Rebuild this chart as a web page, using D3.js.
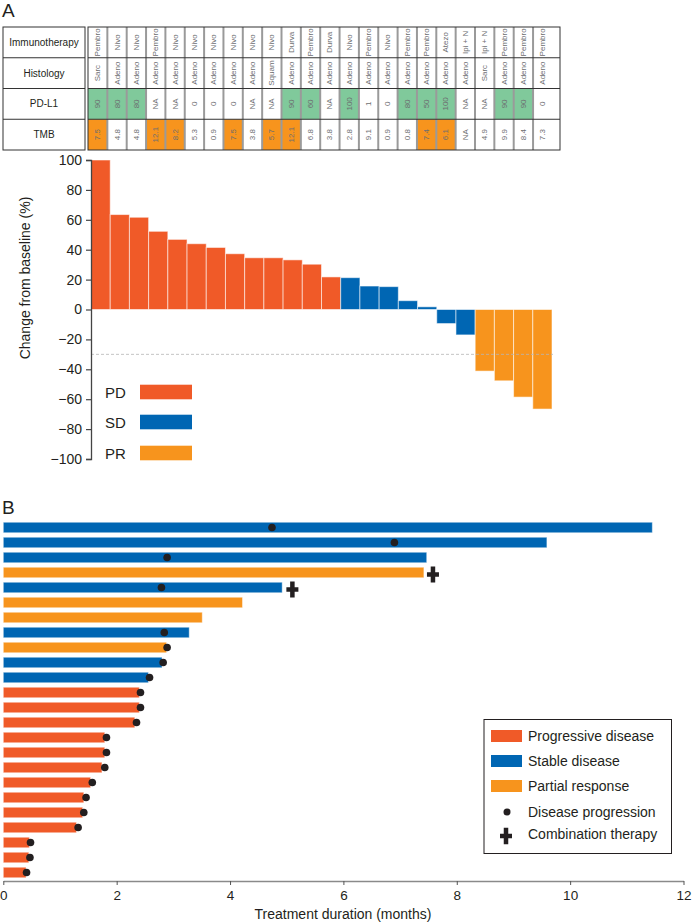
<!DOCTYPE html>
<html>
<head>
<meta charset="utf-8">
<script src="https://cdn.jsdelivr.net/npm/d3@7/dist/d3.min.js"></script>
<style>
  html, body { margin: 0; padding: 0; background: #fff; }
  svg { display: block; font-family: "Liberation Sans", Arial, Helvetica, sans-serif; }
</style>
</head>
<body>
<svg id="chart" width="694" height="924"></svg>
<script>
// ---------- DATA ----------
const rowLabels = ["Immunotherapy", "Histology", "PD-L1", "TMB"];
const immunotherapy = ["Pembro","Nivo","Nivo","Pembro","Nivo","Nivo","Nivo","Nivo","Nivo","Nivo","Durva","Pembro","Durva","Nivo","Pembro","Nivo","Pembro","Pembro","Atezo","Ipi + N","Ipi + N","Pembro","Pembro","Pembro"];
const histology = ["Sarc","Adeno","Adeno","Adeno","Adeno","Adeno","Adeno","Adeno","Adeno","Squam","Adeno","Adeno","Adeno","Adeno","Adeno","Adeno","Adeno","Adeno","Adeno","Adeno","Sarc","Adeno","Adeno","Adeno"];
const pdl1 = ["90","80","80","NA","NA","0","0","0","NA","NA","90","60","NA","100","1","0","80","50","100","NA","NA","90","90","0"];
const tmb = ["7.5","4.8","4.8","12.1","8.2","5.3","0.9","7.5","3.8","5.7","12.1","6.8","3.8","2.8","9.1","0.9","0.8","7.4","6.1","NA","4.9","9.9","8.4","7.3"];
const tmbHighlighted = [1,0,0,1,1,0,0,1,0,1,1,0,0,0,0,0,0,1,1,0,0,0,0,0];

const changeFromBaseline = [100,63.5,61.7,52.3,46.9,44,41.5,37.3,34.6,34.6,33.2,30.3,21.8,21.3,15.7,15.3,5.9,1.8,-9.4,-17,-41.2,-47.7,-58.6,-66.6];
const bestResponse = ["PD","PD","PD","PD","PD","PD","PD","PD","PD","PD","PD","PD","PD","SD","SD","SD","SD","SD","SD","SD","PR","PR","PR","PR"];
const yTicksA = [100,80,60,40,20,0,-20,-40,-60,-80,-100];

const treatmentDuration = [11.45,9.59,7.47,7.42,4.92,4.22,3.51,3.28,2.88,2.80,2.56,2.40,2.40,2.32,1.79,1.79,1.74,1.54,1.42,1.40,1.29,0.46,0.45,0.40];
const swimResponse = ["SD","SD","SD","PR","SD","PR","PR","SD","PR","SD","SD","PD","PD","PD","PD","PD","PD","PD","PD","PD","PD","PD","PD","PD"];
const progressionTime = [4.74,6.90,2.89,null,2.79,null,null,2.84,2.89,2.82,2.58,2.42,2.42,2.35,1.82,1.82,1.79,1.57,1.46,1.42,1.32,0.48,0.47,0.41];
const combinationTime = [null,null,null,7.58,5.10,null,null,null,null,null,null,null,null,null,null,null,null,null,null,null,null,null,null,null];
const xTicksB = [0,2,4,6,8,10,12];

const colors = { PD: "#f05a28", SD: "#0066b3", PR: "#f7941d" };
const legendA = [["PD","PD"],["SD","SD"],["PR","PR"]];
const legendB = [["Progressive disease","PD"],["Stable disease","SD"],["Partial response","PR"]];

// ---------- SETUP ----------
const svg = d3.select("#chart");
const idx = d3.range(changeFromBaseline.length);
const textColor = "#231f20";

// Panel labels
svg.append("text").attr("x", 2).attr("y", 17).attr("font-size", 19).attr("fill", textColor).text("A");
svg.append("text").attr("x", 2).attr("y", 514).attr("font-size", 19).attr("fill", textColor).text("B");

// ---------- TABLE ----------
const rowY = d3.scaleBand().domain(rowLabels).range([27, 150]);
const colX = d3.scaleBand().domain(idx).range([88, 88 + 19.35 * 24]);
const tableRight = 560;
const tbl = svg.append("g");

rowLabels.forEach(r => {
  tbl.append("text")
    .attr("x", 44).attr("y", rowY(r) + rowY.bandwidth() / 2)
    .attr("text-anchor", "middle").attr("dominant-baseline", "central")
    .attr("font-size", 10).attr("fill", textColor).text(r);
});

const rowsData = [
  { key: "Immunotherapy", vals: immunotherapy, fill: () => null },
  { key: "Histology", vals: histology, fill: () => null },
  { key: "PD-L1", vals: pdl1, fill: v => (v !== "NA" && +v >= 50) ? "#80c99b" : null },
  { key: "TMB", vals: tmb, fill: (v, i) => tmbHighlighted[i] ? "#f7941d" : null }
];
const colW = i => (i === 23 ? tableRight - colX(i) : colX.bandwidth());

rowsData.forEach(row => {
  row.vals.forEach((v, i) => {
    const f = row.fill(v, i);
    if (f) {
      tbl.append("rect").attr("x", colX(i)).attr("y", rowY(row.key))
        .attr("width", colW(i)).attr("height", rowY.bandwidth()).attr("fill", f);
    }
    const cx = colX(i) + colW(i) / 2 - (i === 23 ? 4 : 0);
    const cy = rowY(row.key) + rowY.bandwidth() / 2;
    tbl.append("text")
      .attr("transform", `translate(${cx},${cy}) rotate(-90)`)
      .attr("text-anchor", "middle").attr("dominant-baseline", "central")
      .attr("font-size", 8).attr("fill", "#6d6e71").text(v);
  });
});

d3.range(1, 24).forEach(i => {
  tbl.append("line").attr("x1", colX(i)).attr("x2", colX(i))
    .attr("y1", 27).attr("y2", 150).attr("stroke", "#9a9a9a").attr("stroke-width", 2);
});
rowLabels.slice(1).forEach(r => {
  const yy = rowY(r);
  tbl.append("line").attr("x1", 3).attr("x2", 85).attr("y1", yy).attr("y2", yy).attr("stroke", "#333").attr("stroke-width", 1);
  tbl.append("line").attr("x1", 88).attr("x2", tableRight).attr("y1", yy).attr("y2", yy).attr("stroke", "#333").attr("stroke-width", 1);
});
tbl.append("rect").attr("x", 3).attr("y", 27).attr("width", 82).attr("height", 123)
  .attr("fill", "none").attr("stroke", "#333").attr("stroke-width", 1);
tbl.append("rect").attr("x", 88).attr("y", 27).attr("width", tableRight - 88).attr("height", 123)
  .attr("fill", "none").attr("stroke", "#333").attr("stroke-width", 1);

// ---------- WATERFALL ----------
const xA = d3.scaleBand().domain(idx).range([91, 552]).padding(0);
const yA = d3.scaleLinear().domain([-100, 100]).range([459, 160]);

svg.append("g").selectAll("rect").data(idx).join("rect")
  .attr("x", i => xA(i))
  .attr("y", i => yA(Math.max(0, changeFromBaseline[i])))
  .attr("width", xA.bandwidth())
  .attr("height", i => Math.abs(yA(changeFromBaseline[i]) - yA(0)))
  .attr("fill", i => colors[bestResponse[i]])
  .attr("stroke", "#fff").attr("stroke-opacity", 0.55).attr("stroke-width", 1);

svg.append("line").attr("x1", 91).attr("x2", 553).attr("y1", yA(-30)).attr("y2", yA(-30))
  .attr("stroke", "#b5b5b5").attr("stroke-width", 0.8).attr("stroke-dasharray", "3,2");

const axA = svg.append("g").attr("transform", "translate(91,0)")
  .call(d3.axisLeft(yA).tickValues(yTicksA).tickSize(5).tickPadding(4)
    .tickFormat(d => d < 0 ? "\u2212" + Math.abs(d) : d));
axA.select(".domain").attr("stroke", "#444").attr("stroke-width", 1.3);
axA.selectAll(".tick line").attr("stroke", "#444").attr("stroke-width", 1.2);
axA.selectAll(".tick text").attr("font-size", 14).attr("fill", textColor)
  .attr("font-family", "'Liberation Sans', Arial, sans-serif");

svg.append("text")
  .attr("transform", `translate(30,278) rotate(-90)`)
  .attr("text-anchor", "middle").attr("font-size", 14).attr("fill", textColor)
  .text("Change from baseline (%)");

legendA.forEach((d, k) => {
  const cy = [392, 422, 453][k];
  svg.append("text").attr("x", 105).attr("y", cy).attr("dominant-baseline", "central")
    .attr("font-size", 15).attr("fill", textColor).text(d[0]);
  svg.append("rect").attr("x", 140).attr("y", cy - 7.3).attr("width", 52).attr("height", 14.6)
    .attr("fill", colors[d[1]]);
});

// ---------- SWIMMER ----------
const xB = d3.scaleLinear().domain([0, 12]).range([3.3, 683.5]);
const yB = d3.scaleBand().domain(idx).range([520, 880]).paddingInner(0.3).paddingOuter(0.15);

svg.append("g").selectAll("rect").data(idx).join("rect")
  .attr("x", xB(0))
  .attr("y", i => yB(i))
  .attr("width", i => xB(treatmentDuration[i]) - xB(0))
  .attr("height", yB.bandwidth())
  .attr("fill", i => colors[swimResponse[i]])
  .attr("stroke", "#fff").attr("stroke-opacity", 0.45).attr("stroke-width", 1);

const crossPath = (cx, cy, w, h, t) => {
  const hw = w / 2, hh = h / 2, ht = t / 2;
  return `M${cx - ht},${cy - hh}H${cx + ht}V${cy - ht}H${cx + hw}V${cy + ht}H${cx + ht}V${cy + hh}H${cx - ht}V${cy + ht}H${cx - hw}V${cy - ht}H${cx - ht}Z`;
};

svg.append("g").selectAll("circle").data(idx.filter(i => progressionTime[i] !== null)).join("circle")
  .attr("cx", i => xB(progressionTime[i]))
  .attr("cy", i => yB(i) + yB.bandwidth() / 2)
  .attr("r", 3.8).attr("fill", "#231f20");

svg.append("g").selectAll("path").data(idx.filter(i => combinationTime[i] !== null)).join("path")
  .attr("d", i => crossPath(xB(combinationTime[i]), yB(i) + yB.bandwidth() / 2 + 2, 12, 16, 4.5))
  .attr("fill", "#231f20");

const axB = svg.append("g").attr("transform", "translate(0,881)")
  .call(d3.axisBottom(xB).tickValues(xTicksB).tickSize(4).tickPadding(5).tickSizeOuter(0));
axB.select(".domain").attr("stroke", "#8a8a8a").attr("stroke-width", 1.5);
axB.selectAll(".tick line").attr("stroke", "#555").attr("stroke-width", 1);
axB.selectAll(".tick text").attr("font-size", 13.5).attr("fill", textColor)
  .attr("font-family", "'Liberation Sans', Arial, sans-serif");

svg.append("text").attr("x", 343).attr("y", 919).attr("text-anchor", "middle")
  .attr("font-size", 14).attr("fill", textColor).text("Treatment duration (months)");

const lg = svg.append("g");
lg.append("rect").attr("x", 484).attr("y", 719.5).attr("width", 187.5).attr("height", 134)
  .attr("fill", "#fff").attr("stroke", "#231f20").attr("stroke-width", 1);
legendB.forEach((d, k) => {
  const cy = 736 + k * 25;
  lg.append("rect").attr("x", 491).attr("y", cy - 6).attr("width", 31).attr("height", 12)
    .attr("fill", colors[d[1]]);
  lg.append("text").attr("x", 528).attr("y", cy).attr("dominant-baseline", "central")
    .attr("font-size", 14).attr("fill", textColor).text(d[0]);
});
lg.append("circle").attr("cx", 507).attr("cy", 812).attr("r", 3.5).attr("fill", "#231f20");
lg.append("text").attr("x", 528).attr("y", 812).attr("dominant-baseline", "central")
  .attr("font-size", 14).attr("fill", textColor).text("Disease progression");
lg.append("path").attr("d", crossPath(506, 836, 12, 16.5, 4.5)).attr("fill", "#231f20");
lg.append("text").attr("x", 528).attr("y", 834).attr("dominant-baseline", "central")
  .attr("font-size", 14).attr("fill", textColor).text("Combination therapy");
</script>
</body>
</html>
